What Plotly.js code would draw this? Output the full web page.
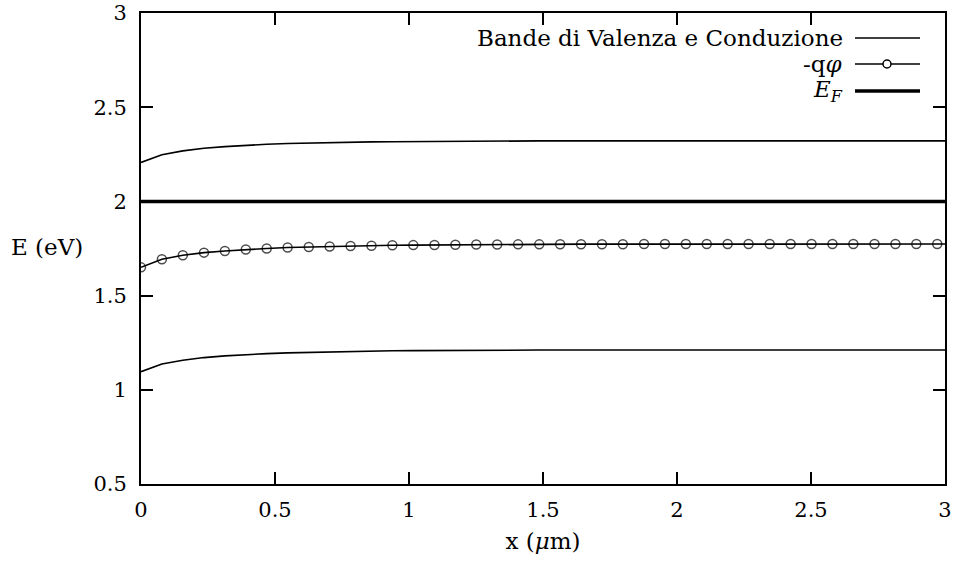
<!DOCTYPE html>
<html>
<head>
<meta charset="utf-8">
<script src="https://cdn.plot.ly/plotly-3.0.1.min.js"></script>
<style>html,body{margin:0;padding:0;background:#fff;}</style>
</head>
<body>
<div id="chart" style="width:957px;height:566px;"></div>
<script>
// x positions (µm) of the sampled points; last point closes the curves at the right edge
const xPts = [0.000,0.078,0.156,0.235,0.313,0.391,0.469,0.547,0.626,0.704,0.782,0.860,0.938,1.016,1.095,1.173,1.251,1.329,1.407,1.486,1.564,1.642,1.720,1.798,1.877,1.955,2.033,2.111,2.189,2.267,2.346,2.424,2.502,2.580,2.658,2.737,2.815,2.893,2.971,3.000];

// -q phi (eV)
const phiVals = [1.650,1.693,1.714,1.728,1.737,1.745,1.750,1.755,1.758,1.761,1.763,1.765,1.767,1.768,1.769,1.770,1.771,1.771,1.772,1.772,1.773,1.773,1.773,1.773,1.774,1.774,1.774,1.774,1.774,1.774,1.774,1.774,1.774,1.774,1.774,1.774,1.774,1.774,1.774,1.774];

// conduction band (eV)
const condVals = [2.207,2.248,2.268,2.282,2.291,2.298,2.303,2.307,2.310,2.312,2.314,2.316,2.317,2.318,2.319,2.320,2.320,2.321,2.321,2.321,2.321,2.321,2.321,2.321,2.321,2.321,2.321,2.321,2.321,2.321,2.321,2.321,2.321,2.321,2.321,2.321,2.321,2.321,2.321,2.321];

// valence band (eV)
const valVals = [1.096,1.137,1.157,1.171,1.180,1.187,1.192,1.196,1.199,1.202,1.204,1.205,1.207,1.208,1.209,1.210,1.210,1.211,1.211,1.211,1.211,1.211,1.211,1.211,1.211,1.211,1.211,1.211,1.211,1.211,1.211,1.211,1.211,1.211,1.211,1.211,1.211,1.211,1.211,1.211];

// Fermi level (eV)
const efX = [0, 3];
const efVals = [2.0, 2.0];

const legendLabels = ["Bande di Valenza e Conduzione", "-q<i>φ</i>", "<i>E<sub>F</sub></i>"];
const xTitle = "x (<i>μ</i>m)";
const yTitle = "E (eV)";

const FONT = "DejaVu Serif";
const FS = 21;   // tick labels
const FT = 23;   // titles and legend

// marker sizes: circles on sampled points, none on closing point
const phiMarkerSizes = xPts.map((x, i) => (i === xPts.length - 1 ? 0 : 9));

const traces = [
  {x: xPts, y: condVals, mode: "lines", line: {color: "black", width: 1.6}, hoverinfo: "skip"},
  {x: xPts, y: valVals, mode: "lines", line: {color: "black", width: 1.6}, hoverinfo: "skip"},
  {x: efX, y: efVals, mode: "lines", line: {color: "black", width: 3.5}, hoverinfo: "skip"},
  {x: xPts, y: phiVals, mode: "lines+markers", line: {color: "black", width: 1.6},
   marker: {symbol: "circle-open", size: phiMarkerSizes, color: "black", line: {width: 1.5, color: "black"}}, hoverinfo: "skip"}
];

// legend (gnuplot-style: text right-aligned, sample to the right)
const L = 141, R = 945, T = 13, B = 484;
const px2x = p => (p - L) / (R - L);
const px2y = p => (B - p) / (B - T);
const rowY = [38, 64, 91];
const annotations = legendLabels.map((t, i) => ({
  text: t, xref: "paper", yref: "paper", x: px2x(845), y: px2y(rowY[i]),
  xanchor: "right", yanchor: "middle", showarrow: false,
  font: {family: FONT, size: FT, color: "black"}
}));
annotations.push({
  text: yTitle, xref: "paper", yref: "paper", x: px2x(47), y: px2y(247),
  xanchor: "center", yanchor: "middle", showarrow: false,
  font: {family: FONT, size: FT, color: "black"}
});

const widths = [1.6, 1.6, 3.5];
const shapes = rowY.map((y, i) => ({
  type: "line", xref: "paper", yref: "paper",
  x0: px2x(855), x1: px2x(920), y0: px2y(y), y1: px2y(y),
  line: {color: "black", width: widths[i]}
}));
shapes.push({
  type: "circle", xref: "paper", yref: "paper", xsizemode: "pixel", ysizemode: "pixel",
  xanchor: px2x(887), yanchor: px2y(rowY[1]), x0: -4, x1: 4, y0: -4, y1: 4,
  line: {color: "black", width: 1.5}, fillcolor: "white"
});

const axisCommon = {
  showline: true, linecolor: "black", linewidth: 2, mirror: "ticks",
  ticks: "inside", ticklen: 12, tickwidth: 2, tickcolor: "black",
  showgrid: false, zeroline: false, dtick: 0.5,
  tickfont: {family: FONT, size: FS, color: "black"}
};

const layout = {
  width: 957, height: 566,
  margin: {l: L, r: 957 - R, t: T, b: 566 - B},
  paper_bgcolor: "white", plot_bgcolor: "white",
  showlegend: false,
  font: {family: FONT, size: FS, color: "black"},
  xaxis: Object.assign({}, axisCommon, {range: [0, 3], tick0: 0, ticklabelstandoff: 6,
    title: {text: xTitle, font: {family: FONT, size: FT, color: "black"}, standoff: 12}}),
  yaxis: Object.assign({}, axisCommon, {range: [0.5, 3], tick0: 0.5, ticklabelstandoff: 8}),
  annotations: annotations,
  shapes: shapes
};

Plotly.newPlot("chart", traces, layout, {displayModeBar: false, staticPlot: true});
</script>
</body>
</html>
